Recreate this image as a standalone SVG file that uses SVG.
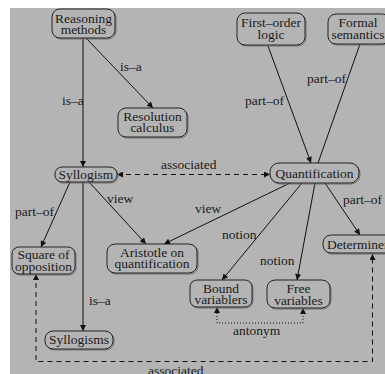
<svg xmlns="http://www.w3.org/2000/svg" width="385" height="374" viewBox="0 0 385 374" font-family="'Liberation Serif','DejaVu Serif','Times New Roman',serif">
<defs>
<marker id="ah" viewBox="0 0 10 10" refX="10" refY="5" markerWidth="8" markerHeight="6" markerUnits="userSpaceOnUse" orient="auto-start-reverse">
<path d="M0,0 L10,5 L0,10 z" fill="#111"/>
</marker>
</defs>
<style>
text{font-family:'Liberation Serif','DejaVu Serif','Times New Roman',serif;font-size:13.5px;fill:#1a1a1a}
.n rect.s{fill:none;stroke:#707070;stroke-width:1}
.n rect.b{fill:#b4b4b4;stroke:#222;stroke-width:1}
.n text{text-anchor:middle}
.e line,.e path{stroke:#111;stroke-width:1;fill:none}
.e .d{stroke-dasharray:5,4}
.e .o{stroke-dasharray:1,2}
</style>
<rect x="0" y="0" width="385" height="374" fill="#ffffff"/>
<rect x="10" y="8" width="375" height="366" fill="#b4b4b4"/>
<g id="edges" class="e">
<line x1="83" y1="38" x2="83" y2="167" marker-end="url(#ah)"/>
<line x1="86" y1="38" x2="153" y2="108" marker-end="url(#ah)"/>
<line x1="268" y1="46" x2="311" y2="163" marker-end="url(#ah)"/>
<line x1="360" y1="44" x2="318" y2="163"/>
<line class="d" x1="117" y1="174.5" x2="270" y2="174.5" marker-start="url(#ah)" marker-end="url(#ah)"/>
<line x1="70" y1="182" x2="41" y2="247" marker-end="url(#ah)"/>
<line x1="89" y1="182" x2="146" y2="244" marker-end="url(#ah)"/>
<line x1="83" y1="182" x2="83" y2="331" marker-end="url(#ah)"/>
<line x1="290" y1="183" x2="164" y2="244" marker-end="url(#ah)"/>
<line x1="302" y1="183" x2="222" y2="280" marker-end="url(#ah)"/>
<line x1="315" y1="183" x2="297" y2="280" marker-end="url(#ah)"/>
<line x1="325" y1="183" x2="360" y2="235" marker-end="url(#ah)"/>
<path class="o" d="M217,307 V323 H303 V308" marker-start="url(#ah)" marker-end="url(#ah)"/>
<path class="d" d="M36,274 V361.5 H372.5 V254" marker-start="url(#ah)" marker-end="url(#ah)"/>
<text x="62" y="105">is–a</text>
<text x="120" y="71">is–a</text>
<text x="245" y="105">part–of</text>
<text x="307" y="83">part–of</text>
<text x="161" y="169">associated</text>
<text x="15" y="216">part–of</text>
<text x="107" y="203">view</text>
<text x="89" y="305">is–a</text>
<text x="195" y="213">view</text>
<text x="222" y="239">notion</text>
<text x="260" y="265">notion</text>
<text x="343" y="204">part–of</text>
<text x="233" y="335">antonym</text>
<text x="148" y="375">associated</text>
</g>
<g id="reasoning" class="n">
<rect class="s" x="53" y="10" width="63" height="29" rx="8"/>
<rect class="b" x="52" y="9" width="63" height="29" rx="8"/>
<text x="83.5" y="23">Reasoning</text>
<text x="83.5" y="34">methods</text>
</g>
<g id="resolution" class="n">
<rect class="s" x="119" y="109" width="69" height="29" rx="8"/>
<rect class="b" x="118" y="108" width="69" height="29" rx="8"/>
<text x="152.5" y="121">Resolution</text>
<text x="152.5" y="132">calculus</text>
</g>
<g id="firstorder" class="n">
<rect class="s" x="238" y="14" width="68" height="32" rx="8"/>
<rect class="b" x="237" y="13" width="68" height="32" rx="8"/>
<text x="271" y="27">First–order</text>
<text x="271" y="39">logic</text>
</g>
<g id="formal" class="n">
<rect class="s" x="329" y="15" width="62" height="30" rx="8"/>
<rect class="b" x="328" y="14" width="62" height="30" rx="8"/>
<text x="358" y="27">Formal</text>
<text x="358" y="39">semantics</text>
</g>
<g id="syllogism" class="n">
<rect class="s" x="56" y="168" width="62" height="15" rx="7"/>
<rect class="b" x="55" y="167" width="62" height="15" rx="7"/>
<text x="86" y="179">Syllogism</text>
</g>
<g id="quantification" class="n">
<rect class="s" x="271" y="164" width="89" height="20" rx="9"/>
<rect class="b" x="270" y="163" width="89" height="20" rx="9"/>
<text x="314.5" y="178">Quantification</text>
</g>
<g id="square" class="n">
<rect class="s" x="13" y="248" width="63" height="27" rx="7"/>
<rect class="b" x="12" y="247" width="63" height="27" rx="7"/>
<text x="43.5" y="259">Square of</text>
<text x="43.5" y="271">opposition</text>
</g>
<g id="aristotle" class="n">
<rect class="s" x="108" y="245" width="90" height="29" rx="8"/>
<rect class="b" x="107" y="244" width="90" height="29" rx="8"/>
<text x="152" y="257">Aristotle on</text>
<text x="152" y="268">quantification</text>
</g>
<g id="syllogisms" class="n">
<rect class="s" x="46" y="332" width="68" height="18" rx="8"/>
<rect class="b" x="45" y="331" width="68" height="18" rx="8"/>
<text x="79" y="344">Syllogisms</text>
</g>
<g id="determiner" class="n">
<rect class="s" x="324" y="236" width="70" height="18" rx="8"/>
<rect class="b" x="323" y="235" width="70" height="18" rx="8"/>
<text x="327" y="249" style="text-anchor:start">Determiner</text>
</g>
<g id="bound" class="n">
<rect class="s" x="191" y="281" width="62" height="27" rx="7"/>
<rect class="b" x="190" y="280" width="62" height="27" rx="7"/>
<text x="221" y="293">Bound</text>
<text x="221" y="304">variablers</text>
</g>
<g id="free" class="n">
<rect class="s" x="268" y="281" width="63" height="28" rx="8"/>
<rect class="b" x="267" y="280" width="63" height="28" rx="8"/>
<text x="298.5" y="293">Free</text>
<text x="298.5" y="305">variables</text>
</g>
</svg>
